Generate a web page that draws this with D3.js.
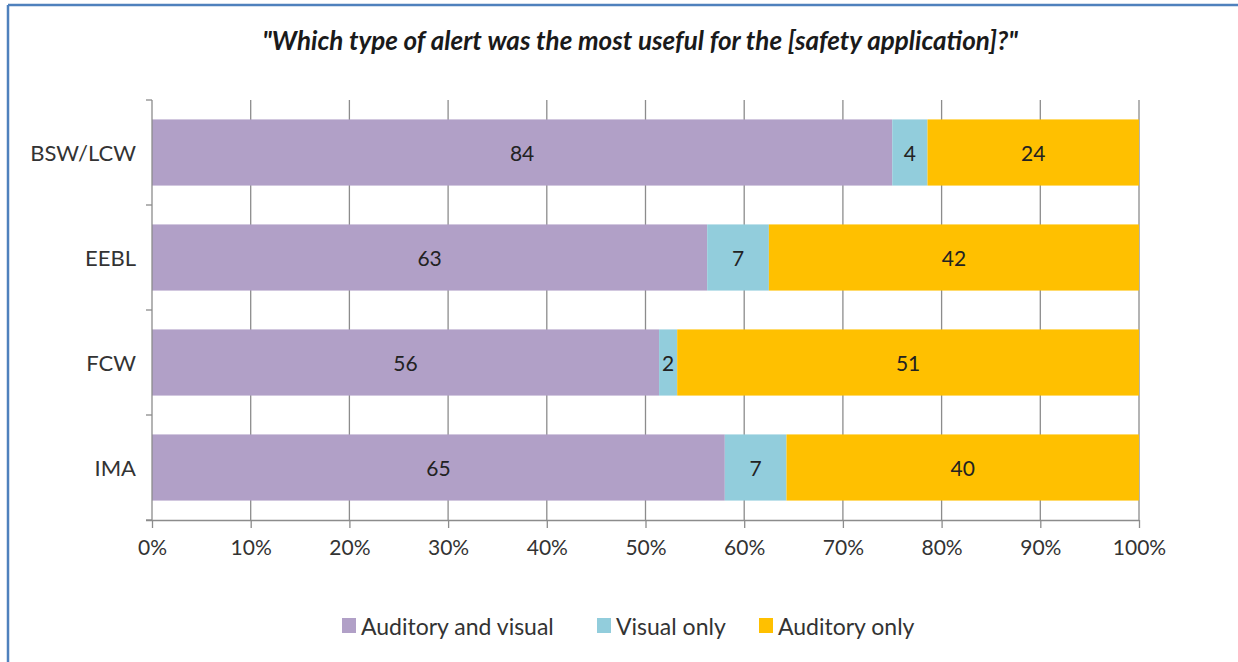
<!DOCTYPE html>
<html>
<head>
<meta charset="utf-8">
<script src="https://cdn.jsdelivr.net/npm/d3@7"></script>
<style>
  body { margin: 0; background: #fff; }
  svg { display: block; font-family: Lato, "Open Sans", sans-serif; }
</style>
</head>
<body>
<script>
// Data
var categories = ["BSW/LCW", "EEBL", "FCW", "IMA"];
var seriesNames = ["Auditory and visual", "Visual only", "Auditory only"];
var auditoryVisual = [84, 63, 56, 65];
var visualOnly = [4, 7, 2, 7];
var auditoryOnly = [24, 42, 51, 40];
var tickLabels = ["0%", "10%", "20%", "30%", "40%", "50%", "60%", "70%", "80%", "90%", "100%"];
var colors = ["#b1a0c7", "#92cddc", "#ffc000"];

var width = 1238;
var height = 662;

var svg = d3.select("body")
            .append("svg")
            .attr("width", width)
            .attr("height", height);

// frame
svg.append("line").attr("x1", 8).attr("x2", width).attr("y1", 5).attr("y2", 5)
    .attr("stroke", "#4f81bd").attr("stroke-width", 2.5);
svg.append("line").attr("x1", 8).attr("x2", 8).attr("y1", 5).attr("y2", height)
    .attr("stroke", "#4f81bd").attr("stroke-width", 2.5);

// title
svg.append("text")
    .attr("x", 640)
    .attr("y", 50)
    .attr("text-anchor", "middle")
    .style("font-size", "26px")
    .style("font-weight", "bold")
    .style("font-style", "italic")
    .style("fill", "#1a1a1a")
    .text("\"Which type of alert was the most useful for the [safety application]?\"");

// build rows for stacking
var rows = categories.map(function(c, i) {
    var total = auditoryVisual[i] + visualOnly[i] + auditoryOnly[i];
    return { cat: c, vals: [auditoryVisual[i], visualOnly[i], auditoryOnly[i]], total: total };
});

var x = d3.scaleLinear().domain([0, 1]).range([152, 1139]);
var y = d3.scaleBand().domain(categories).range([100, 520]).paddingInner(0.37).paddingOuter(0.185);

// gridlines
svg.append("g")
    .selectAll("line")
    .data(d3.range(1, 11))
    .enter()
    .append("line")
    .attr("x1", function(d) { return x(d / 10); })
    .attr("x2", function(d) { return x(d / 10); })
    .attr("y1", 100)
    .attr("y2", 520)
    .attr("stroke", "#8c8c8c")
    .attr("stroke-width", 1.3);

// bars
rows.forEach(function(r) {
    var cum = 0;
    r.vals.forEach(function(v, k) {
        var x0 = x(cum / r.total);
        var x1 = x((cum + v) / r.total);
        svg.append("rect")
            .attr("x", x0)
            .attr("y", y(r.cat))
            .attr("width", x1 - x0)
            .attr("height", y.bandwidth())
            .attr("fill", colors[k]);
        svg.append("text")
            .attr("x", (x0 + x1) / 2)
            .attr("y", y(r.cat) + y.bandwidth() / 2 + 8)
            .attr("text-anchor", "middle")
            .style("font-size", "21px")
            .style("fill", "#222")
            .text(v);
        cum += v;
    });
});

// x axis
var xAxis = d3.axisBottom(x)
    .tickValues(d3.range(0, 11).map(function(d) { return d / 10; }))
    .tickFormat(function(d, i) { return tickLabels[i]; })
    .tickSize(8)
    .tickSizeOuter(0);
var gx = svg.append("g").attr("transform", "translate(0,520)").call(xAxis);
gx.select(".domain").attr("stroke", "#8c8c8c").attr("stroke-width", 1.3)
    .attr("d", "M146,0.5H1139");
gx.selectAll(".tick line").attr("stroke", "#8c8c8c").attr("stroke-width", 1.3);
gx.selectAll(".tick text")
    .attr("dy", "0")
    .attr("y", 35)
    .style("font-size", "21px")
    .style("fill", "#333")
    .style("font-family", "Lato, sans-serif");

// y axis line with ticks between categories
svg.append("line").attr("x1", 152).attr("x2", 152).attr("y1", 100).attr("y2", 520)
    .attr("stroke", "#8c8c8c").attr("stroke-width", 1.3);
svg.append("g")
    .selectAll("line")
    .data(d3.range(0, 5))
    .enter()
    .append("line")
    .attr("x1", 146)
    .attr("x2", 152)
    .attr("y1", function(d) { return 100 + d * 105; })
    .attr("y2", function(d) { return 100 + d * 105; })
    .attr("stroke", "#8c8c8c")
    .attr("stroke-width", 1.3);

svg.append("g")
    .selectAll("text")
    .data(categories)
    .enter()
    .append("text")
    .attr("x", 136)
    .attr("y", function(d) { return y(d) + y.bandwidth() / 2 + 8; })
    .attr("text-anchor", "end")
    .style("font-size", "22px")
    .style("fill", "#333")
    .text(function(d) { return d; });

// legend
var legendX = [342, 597, 759];
var legend = svg.selectAll("g.legend")
    .data(seriesNames)
    .enter()
    .append("g")
    .attr("class", "legend")
    .attr("transform", function(d, i) { return "translate(" + legendX[i] + ",618)"; });

legend.append("rect")
    .attr("x", 0)
    .attr("y", 0)
    .attr("width", 14)
    .attr("height", 15)
    .attr("fill", function(d, i) { return colors[i]; });

legend.append("text")
    .attr("x", 19)
    .attr("y", 17)
    .style("font-size", "23px")
    .style("fill", "#333")
    .text(function(d) { return d; });
</script>
</body>
</html>
